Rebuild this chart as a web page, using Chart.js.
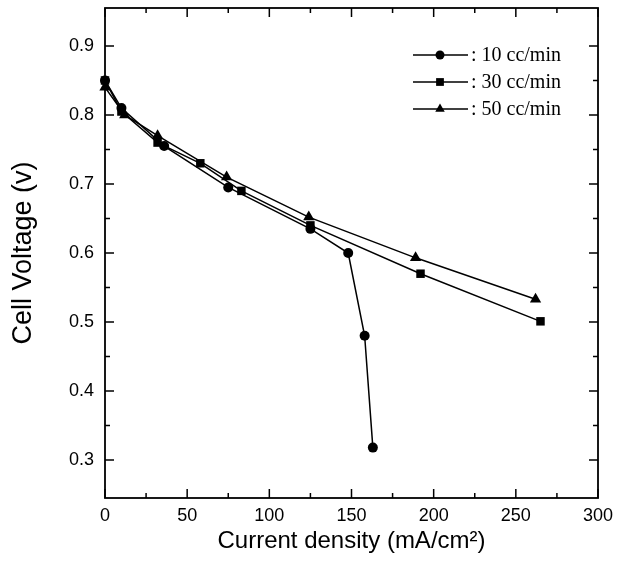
<!DOCTYPE html>
<html>
<head>
<meta charset="utf-8">
<script src="https://cdn.jsdelivr.net/npm/chart.js@4/dist/chart.umd.min.js"></script>
<style>
  html, body { margin: 0; padding: 0; background: #fff; }
  #wrap { width: 628px; height: 566px; }
</style>
</head>
<body>
<div id="wrap"><canvas id="myChart" width="628" height="566"></canvas></div>
<script>
// flow rates
var seriesNames = [": 10 cc/min", ": 30 cc/min", ": 50 cc/min"];
var markers = ["circle", "rect", "triangle"];

// current density (mA/cm2) and cell voltage (V)
var x10 = [0, 10, 36, 75, 125, 148, 158, 163];
var v10 = [0.85, 0.81, 0.755, 0.695, 0.635, 0.60, 0.48, 0.318];
var x30 = [0, 10, 32, 58, 83, 125, 192, 265];
var v30 = [0.85, 0.805, 0.76, 0.73, 0.69, 0.64, 0.57, 0.501];
var x50 = [0, 12, 32, 74, 124, 189, 262];
var v50 = [0.84, 0.80, 0.77, 0.71, 0.652, 0.593, 0.533];

var xTicks = [0, 50, 100, 150, 200, 250, 300];
var yTicks = [0.3, 0.4, 0.5, 0.6, 0.7, 0.8, 0.9];

function pts(xs, ys) {
    return xs.map(function (x, i) { return { x: x, y: ys[i] }; });
}

function ds(i, xs, ys, r) {
    return {
        label: seriesNames[i],
        data: pts(xs, ys),
        borderColor: '#000',
        backgroundColor: '#000',
        borderWidth: 1.5,
        pointStyle: markers[i],
        pointRadius: r,
        pointBorderWidth: 0,
        tension: 0,
        clip: false
    };
}

// box with inward ticks on all four sides, plus the legend
var frame = {
    id: 'frame',
    afterDatasetsDraw: function (chart) {
        var c = chart.ctx, a = chart.chartArea;
        var xs = chart.scales.x, ys = chart.scales.y;
        c.save();
        c.strokeStyle = '#000';
        c.lineWidth = 1.8;
        c.strokeRect(a.left, a.top, a.right - a.left, a.bottom - a.top);
        c.lineWidth = 1.5;
        c.beginPath();
        for (var v = 0; v <= 300; v += 25) {
            var px = xs.getPixelForValue(v);
            var len = v % 50 === 0 ? 9 : 5;
            c.moveTo(px, a.bottom); c.lineTo(px, a.bottom - len);
            c.moveTo(px, a.top); c.lineTo(px, a.top + len);
        }
        for (var k = 6; k <= 18; k++) {
            var py = ys.getPixelForValue(k * 0.05);
            var l2 = k % 2 === 0 ? 9 : 5;
            c.moveTo(a.left, py); c.lineTo(a.left + l2, py);
            c.moveTo(a.right, py); c.lineTo(a.right - l2, py);
        }
        c.stroke();

        var lx0 = 413, lx1 = 468, mx = 440, rows = [55, 82, 109];
        var radii = [5, 6, 6];
        c.font = '20px "Liberation Serif", "Times New Roman", serif';
        c.textBaseline = 'middle';
        c.fillStyle = '#000';
        for (var i = 0; i < 3; i++) {
            c.lineWidth = 1.3;
            c.beginPath();
            c.moveTo(lx0, rows[i]); c.lineTo(lx1, rows[i]);
            c.stroke();
            Chart.helpers.drawPoint(c, { pointStyle: markers[i], radius: radii[i] - 0.5, borderWidth: 0 }, mx, rows[i]);
            c.fillText(seriesNames[i], 471, rows[i] + 1);
        }
        c.restore();
    }
};

var ctx = document.getElementById("myChart").getContext('2d');
var myChart = new Chart(ctx, {
    type: 'line',
    data: {
        datasets: [ds(0, x10, v10, 5), ds(1, x30, v30, 6), ds(2, x50, v50, 6.5)]
    },
    options: {
        responsive: false,
        animation: false,
        layout: { padding: { left: 0, top: 8, right: 30, bottom: 0 } },
        plugins: {
            legend: { display: false },
            tooltip: { enabled: false }
        },
        scales: {
            x: {
                type: 'linear',
                min: 0,
                max: 300,
                afterBuildTicks: function (s) { s.ticks = xTicks.map(function (v) { return { value: v }; }); },
                afterFit: function (s) {
                    s.height = 68;
                    s.paddingLeft = 0; s.paddingRight = 0;
                },
                grid: { display: false, drawTicks: false },
                border: { display: false },
                ticks: {
                    color: '#000',
                    padding: 7,
                    maxRotation: 0,
                    font: { family: '"Liberation Sans", Arial, sans-serif', size: 18 }
                },
                title: {
                    display: true,
                    text: 'Current density (mA/cm²)',
                    color: '#000',
                    padding: { top: 0, bottom: 10 },
                    font: { family: '"Liberation Sans", Arial, sans-serif', size: 24 }
                }
            },
            y: {
                type: 'linear',
                min: 0.245,
                max: 0.955,
                afterBuildTicks: function (s) { s.ticks = yTicks.map(function (v) { return { value: v }; }); },
                afterFit: function (s) {
                    s.width = 105;
                    s.paddingTop = 0; s.paddingBottom = 0;
                },
                grid: { display: false, drawTicks: false },
                border: { display: false },
                ticks: {
                    color: '#000',
                    padding: 11,
                    callback: function (v) { return v.toFixed(1); },
                    font: { family: '"Liberation Sans", Arial, sans-serif', size: 18 }
                },
                title: {
                    display: true,
                    text: 'Cell Voltage (v)',
                    color: '#000',
                    padding: { top: 7, bottom: 0 },
                    font: { family: '"Liberation Sans", Arial, sans-serif', size: 27 }
                }
            }
        }
    },
    plugins: [frame]
});
</script>
</body>
</html>
